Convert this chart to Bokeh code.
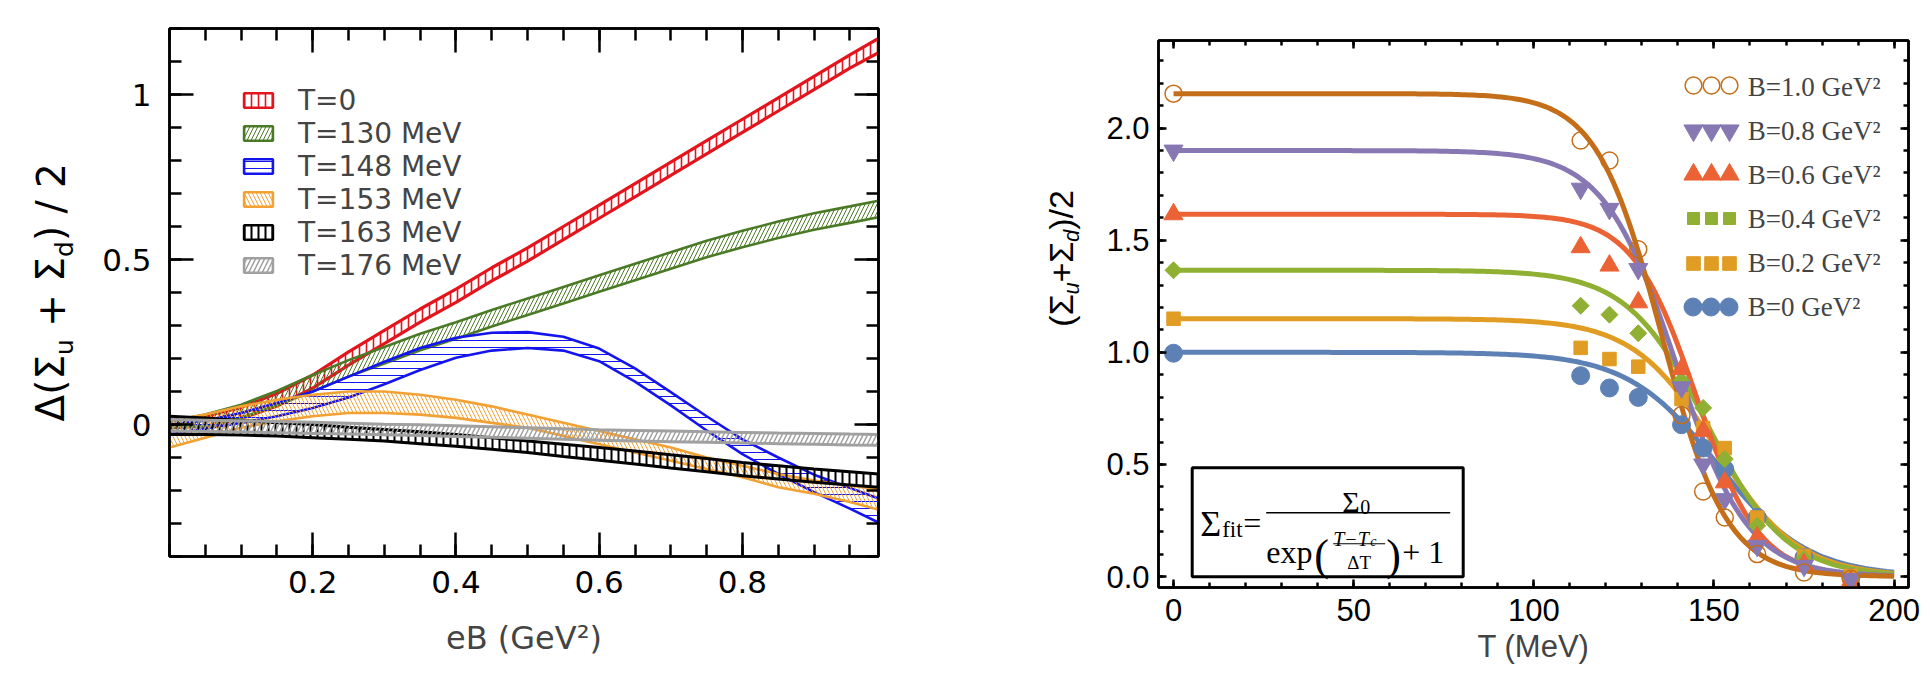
import math
import numpy as np
from bokeh.plotting import figure
from bokeh.layouts import row
from bokeh.models import (Legend, LegendItem, Label, BoxAnnotation, FixedTicker,
                          LinearAxis, NumeralTickFormatter, Range1d)
from bokeh.core.properties import value
from bokeh.embed import file_html
from bokeh.resources import INLINE

# ------------------------------------------------------------------
# Left panel: Δ(Σu+Σd)/2 versus eB, one error band per temperature
# ------------------------------------------------------------------
eB = [0.0, 0.05, 0.10, 0.15, 0.20, 0.25, 0.30, 0.35, 0.40, 0.45, 0.50,
      0.55, 0.60, 0.65, 0.70, 0.75, 0.80, 0.85, 0.90, 0.95, 0.99]

t000_lo = [-0.010, -0.005, 0.018, 0.056, 0.110, 0.180, 0.245, 0.310, 0.370, 0.435, 0.495,
           0.560, 0.625, 0.690, 0.755, 0.820, 0.885, 0.950, 1.015, 1.080, 1.127]
t000_hi = [0.010, 0.025, 0.052, 0.094, 0.150, 0.220, 0.285, 0.350, 0.410, 0.475, 0.535,
           0.600, 0.665, 0.730, 0.795, 0.860, 0.925, 0.990, 1.055, 1.120, 1.170]

t130_lo = [-0.010, -0.005, 0.020, 0.058, 0.100, 0.145, 0.185, 0.225, 0.260, 0.297, 0.332,
           0.367, 0.402, 0.437, 0.472, 0.507, 0.537, 0.565, 0.590, 0.611, 0.628]
t130_hi = [0.010, 0.030, 0.060, 0.102, 0.150, 0.195, 0.235, 0.275, 0.310, 0.347, 0.382,
           0.417, 0.452, 0.487, 0.522, 0.557, 0.587, 0.615, 0.640, 0.661, 0.678]

t148_lo = [-0.030, -0.012, 0.005, 0.025, 0.050, 0.082, 0.122, 0.165, 0.202, 0.224, 0.232,
           0.224, 0.192, 0.130, 0.058, -0.018, -0.090, -0.150, -0.205, -0.255, -0.297]
t148_hi = [0.000, 0.012, 0.035, 0.065, 0.100, 0.145, 0.190, 0.232, 0.263, 0.278, 0.280,
           0.266, 0.230, 0.170, 0.098, 0.025, -0.045, -0.100, -0.152, -0.192, -0.224]

t153_lo = [-0.070, -0.040, -0.010, 0.010, 0.025, 0.035, 0.035, 0.030, 0.020, 0.005, -0.010,
           -0.035, -0.060, -0.085, -0.110, -0.135, -0.160, -0.190, -0.210, -0.235, -0.258]
t153_hi = [0.010, 0.030, 0.055, 0.075, 0.090, 0.100, 0.100, 0.090, 0.075, 0.055, 0.030,
           0.005, -0.020, -0.045, -0.070, -0.100, -0.125, -0.150, -0.170, -0.185, -0.197]

t163_lo = [-0.030, -0.030, -0.032, -0.035, -0.040, -0.045, -0.050, -0.058, -0.066, -0.075, -0.085,
           -0.097, -0.108, -0.120, -0.132, -0.143, -0.155, -0.165, -0.175, -0.183, -0.190]
t163_hi = [0.025, 0.020, 0.012, 0.005, 0.000, -0.008, -0.015, -0.022, -0.030, -0.040, -0.050,
           -0.060, -0.070, -0.080, -0.092, -0.103, -0.115, -0.125, -0.135, -0.143, -0.150]

t176_lo = [-0.020, -0.021, -0.023, -0.025, -0.027, -0.029, -0.031, -0.033, -0.036, -0.039, -0.042,
           -0.045, -0.048, -0.050, -0.052, -0.054, -0.056, -0.058, -0.060, -0.062, -0.063]
t176_hi = [0.015, 0.013, 0.011, 0.009, 0.007, 0.004, 0.001, -0.001, -0.004, -0.007, -0.010,
           -0.013, -0.016, -0.018, -0.020, -0.022, -0.024, -0.026, -0.027, -0.029, -0.030]

band_labels = ["T=0", "T=130 MeV", "T=148 MeV", "T=153 MeV", "T=163 MeV", "T=176 MeV"]

left_x_ticks = [0.2, 0.4, 0.6, 0.8]
left_y_ticks = [0.0, 0.5, 1.0]
left_y_tick_labels = ["0", "0.5", "1"]

# ------------------------------------------------------------------
# Right panel: (Σu+Σd)/2 versus T for several field strengths
# ------------------------------------------------------------------
T_MeV = [0, 113, 121, 129, 141, 147, 153, 162, 175, 188]

sigma_B00 = [0.996, 0.896, 0.841, 0.799, 0.677, 0.573, 0.479, 0.264, 0.085, -0.004]
sigma_B02 = [1.150, 1.020, 0.970, 0.936, 0.792, 0.662, 0.573, 0.263, 0.092, 0.003]
sigma_B04 = [1.366, 1.208, 1.168, 1.085, 0.874, 0.752, 0.524, 0.226, 0.078, -0.012]
sigma_B06 = [1.616, 1.469, 1.387, 1.223, 0.926, 0.650, 0.420, 0.174, 0.055, -0.020]
sigma_B08 = [1.900, 1.730, 1.640, 1.372, 0.844, 0.500, 0.345, 0.137, 0.048, -0.012]
sigma_B10 = [2.154, 1.945, 1.856, 1.460, 0.720, 0.379, 0.263, 0.100, 0.018, -0.010]

B_labels = ["B=0 GeV²", "B=0.2 GeV²", "B=0.4 GeV²", "B=0.6 GeV²", "B=0.8 GeV²", "B=1.0 GeV²"]

# fit parameters of Σ_fit = Σ0 / (exp((T - Tc)/ΔT) + 1)
fit_sigma0 = [1.000, 1.150, 1.366, 1.616, 1.900, 2.154]
fit_Tc = [151.0, 150.5, 148.0, 145.0, 139.5, 135.5]
fit_dT = [12.5, 11.4, 11.0, 8.8, 10.0, 9.0]

right_x_ticks = [0, 50, 100, 150, 200]
right_y_ticks = [0.0, 0.5, 1.0, 1.5, 2.0]


# ------------------------------------------------------------------
# helpers
# ------------------------------------------------------------------
def style_axis(ax, font, size, tick_in, minor_in, width):
    ax.axis_line_width = width
    ax.axis_line_color = "black"
    ax.major_tick_line_width = width
    ax.minor_tick_line_width = width
    ax.major_tick_in = tick_in
    ax.major_tick_out = 0
    ax.minor_tick_in = minor_in
    ax.minor_tick_out = 0
    ax.major_label_text_font = font
    ax.major_label_text_font_size = size
    ax.major_label_text_color = "black"


def frame_axes(p, xt, yt, font, size, tick_in, minor_in, width):
    p.xaxis.ticker = xt
    p.yaxis.ticker = yt
    for ax in p.axis:
        style_axis(ax, font, size, tick_in, minor_in, width)
    # mirrored tick marks on the top and right edges, without numbers
    for side, tk in (("above", xt), ("right", yt)):
        ax = LinearAxis(ticker=tk)
        style_axis(ax, font, "1px", tick_in, minor_in, width)
        ax.major_label_text_color = None
        ax.major_label_standoff = 0
        p.add_layout(ax, side)
    p.outline_line_color = "black"
    p.outline_line_width = width
    p.grid.visible = False


def blank_strip(width):
    t = figure(width=width, height=691, x_range=Range1d(0, 1), y_range=Range1d(0, 1),
               output_backend="svg", toolbar_location=None, x_axis_location=None,
               y_axis_location=None, min_border_left=0, min_border_right=0,
               min_border_top=0, min_border_bottom=0, frame_align=False)
    t.outline_line_color = None
    t.grid.visible = False
    t.background_fill_color = "white"
    t.border_fill_color = "white"
    return t


def vertical_title(p, pieces, mid_x, sub_x, start_y, font):
    """Text reading bottom-to-top; pieces are (text, px size, is_sub, style, advance_px, gap_px).
    Each piece is centred on its own slot, so its placement does not depend on the anchor."""
    pos = start_y
    for text, size, is_sub, style, adv, gap in pieces:
        p.add_layout(Label(x=sub_x if is_sub else mid_x, y=pos + adv / 2, x_units="screen",
                           y_units="screen", text=text, angle=math.pi / 2, text_font=font,
                           text_font_size=f"{size}px", text_font_style=style, text_color="black",
                           text_align="center", text_baseline="middle"))
        pos += adv + gap


# ------------------------------------------------------------------
# left figure
# ------------------------------------------------------------------
L_FONT = "DejaVu Sans"
p1 = figure(width=864, height=691, x_range=Range1d(0.0, 0.99), y_range=Range1d(-0.4, 1.2),
            output_backend="svg", toolbar_location=None, frame_align=False,
            min_border_left=73, min_border_right=82, min_border_top=28, min_border_bottom=135)
p1.background_fill_color = "white"
p1.border_fill_color = "white"

xt1 = FixedTicker(ticks=left_x_ticks, minor_ticks=[i * 0.05 for i in range(0, 20)])
yt1 = FixedTicker(ticks=left_y_ticks, minor_ticks=[round(-0.4 + 0.1 * i, 2) for i in range(0, 17)])
frame_axes(p1, xt1, yt1, L_FONT, "31px", 24, 12, 2.5)
p1.left[0].major_label_overrides = {t: s for t, s in zip(left_y_ticks, left_y_tick_labels)}
p1.left[0].major_label_standoff = 18
p1.below[0].major_label_standoff = 14
p1.below[0].axis_label = "eB (GeV²)"
p1.below[0].axis_label_text_font = L_FONT
p1.below[0].axis_label_text_font_size = "32px"
p1.below[0].axis_label_text_font_style = "normal"
p1.below[0].axis_label_standoff = 23

bands = [
    (t000_lo, t000_hi, "#e4141c", "vertical_line", 7, 1.6, 3.2),
    (t130_lo, t130_hi, "#4a7a26", "right_diagonal_line", 8, 1.0, 2.6),
    (t148_lo, t148_hi, "#1414ee", "horizontal_line", 7, 1.0, 2.6),
    (t153_lo, t153_hi, "#f2a134", "left_diagonal_line", 8, 1.0, 2.6),
    (t163_lo, t163_hi, "#000000", "vertical_line", 7, 2.0, 3.0),
    (t176_lo, t176_hi, "#a0a0a0", "right_diagonal_line", 9, 1.5, 3.0),
]
swatch_items, text_items = [], []
nan1 = np.array([np.nan])
for (lo, hi, col, hatch, hs, hw, lw), lab in zip(bands, band_labels):
    area = p1.varea(x=eB, y1=lo, y2=hi, fill_alpha=0, hatch_pattern=hatch, hatch_color=col,
                    hatch_scale=hs, hatch_weight=hw)
    p1.line(eB, lo, line_color=col, line_width=lw)
    p1.line(eB, hi, line_color=col, line_width=lw)
    key = p1.quad(left=nan1, right=nan1, top=nan1, bottom=nan1, fill_alpha=0, line_color=col,
                  line_width=2.6, hatch_pattern=hatch, hatch_color=col, hatch_scale=hs,
                  hatch_weight=hw)
    swatch_items.append(LegendItem(label=value(""), renderers=[key]))
    text_items.append(LegendItem(label=value(lab), renderers=[area]))

p1.add_layout(Legend(items=swatch_items, location=(71, 282), glyph_width=36, glyph_height=18,
                     label_height=18, label_width=0, spacing=15, padding=0, margin=0,
                     label_standoff=0, label_text_font_size="1px", label_text_color=None,
                     border_line_alpha=0, background_fill_alpha=0))
p1.add_layout(Legend(items=text_items, location=(129, 274), glyph_width=0, glyph_height=33,
                     label_height=33, spacing=0, padding=0, margin=0, label_standoff=0,
                     label_text_font=L_FONT, label_text_font_size="28px",
                     border_line_alpha=0, background_fill_alpha=0))

# vertical title strip of the left panel (page x 0..96)
t1 = blank_strip(96)
SP = 0.318 * 39
vertical_title(t1, [("Δ(Σ", 39, False, "normal", 1.706 * 39, 0),
                    ("u", 25, True, "normal", 0.634 * 25, SP),
                    ("+", 39, False, "normal", 0.838 * 39, SP),
                    ("Σ", 39, False, "normal", 0.632 * 39, 0),
                    ("d", 25, True, "normal", 0.635 * 25, 0),
                    (")", 39, False, "normal", 0.390 * 39, SP),
                    ("/", 39, False, "normal", 0.337 * 39, SP),
                    ("2", 39, False, "normal", 0.636 * 39, 0)],
               mid_x=50, sub_x=64, start_y=691 - 421, font=L_FONT)

# ------------------------------------------------------------------
# right figure
# ------------------------------------------------------------------
R_FONT = "Liberation Sans"
S_FONT = "Liberation Serif"
p2 = figure(width=830, height=691, x_range=Range1d(-4.17, 204.0), y_range=Range1d(-0.049, 2.391),
            output_backend="svg", toolbar_location=None, frame_align=False,
            min_border_left=58, min_border_right=22, min_border_top=40, min_border_bottom=104)
p2.background_fill_color = "white"
p2.border_fill_color = "white"

xt2 = FixedTicker(ticks=right_x_ticks, minor_ticks=[10 * i for i in range(0, 21)])
yt2 = FixedTicker(ticks=right_y_ticks, minor_ticks=[round(0.1 * i, 1) for i in range(0, 24)])
frame_axes(p2, xt2, yt2, R_FONT, "31px", 8, 5, 2.5)
p2.left[0].formatter = NumeralTickFormatter(format="0.0")
p2.left[0].major_label_standoff = 9
p2.below[0].major_label_standoff = 11
p2.below[0].axis_label = "T (MeV)"
p2.below[0].axis_label_text_font = R_FONT
p2.below[0].axis_label_text_font_size = "31px"
p2.below[0].axis_label_text_font_style = "normal"
p2.below[0].axis_label_standoff = 5

series = [
    (sigma_B00, "#5E81B5", "circle", 18, dict(fill_color="#5E81B5", line_color="#5E81B5")),
    (sigma_B02, "#E19C24", "square", 13.5, dict(fill_color="#E19C24", line_color="#E19C24")),
    (sigma_B04, "#8FB032", "square", 12, dict(fill_color="#8FB032", line_color="#8FB032", angle=math.pi / 4)),
    (sigma_B06, "#EB6235", "triangle", 19, dict(fill_color="#EB6235", line_color="#EB6235")),
    (sigma_B08, "#8778B3", "inverted_triangle", 19, dict(fill_color="#8778B3", line_color="#8778B3")),
    (sigma_B10, "#C56E1A", "circle", 17, dict(fill_alpha=0, line_color="#C56E1A", line_width=1.5)),
]

T_fit = list(range(0, 201))
fit_lines = []
for (vals, col, mk, sz, kw), s0, tc, dt in zip(series, fit_sigma0, fit_Tc, fit_dT):
    fit = [s0 / (math.exp((t - tc) / dt) + 1.0) for t in T_fit]
    fit_lines.append(p2.line(T_fit, fit, line_color=col, line_width=5))

markers = [p2.scatter(T_MeV, vals, marker=mk, size=sz, **kw) for vals, col, mk, sz, kw in series]

FL, FB = 1158.3, 586.7  # frame left / bottom of the right panel on the page


def fx(px):
    return px - FL


def fy(py):
    return FB - py


# legend: three markers per row, then the label
row_y = [306.5, 262.2, 217.9, 173.6, 129.3, 85.0]     # B=0 ... B=1.0
col_x = [1693, 1711, 1729]
for i, (vals, col, mk, sz, kw) in enumerate(series):
    g = int(round(sz / 0.4))
    for cx in col_x:
        p2.add_layout(Legend(items=[LegendItem(label=value(""), renderers=[markers[i]])],
                             location=(fx(cx) - g / 2, fy(row_y[i]) - g / 2),
                             glyph_width=g, glyph_height=g, label_height=g, label_width=0,
                             spacing=0, padding=0, margin=0, label_standoff=0,
                             label_text_font_size="1px", label_text_color=None,
                             border_line_alpha=0, background_fill_alpha=0))
label_items = [LegendItem(label=value(B_labels[i]), renderers=[fit_lines[i]]) for i in range(5, -1, -1)]
p2.add_layout(Legend(items=label_items, location=(fx(1748), fy(85.0 - 22 + 6 * 44.3)),
                     glyph_width=0, glyph_height=44, label_height=44, spacing=0, padding=0,
                     margin=0, label_standoff=0, label_text_font=S_FONT,
                     label_text_font_size="27px", border_line_alpha=0, background_fill_alpha=0))

# formula box
p2.add_layout(BoxAnnotation(left=fx(1192), right=fx(1463), bottom=fy(576), top=fy(467),
                            left_units="screen", right_units="screen", top_units="screen",
                            bottom_units="screen", fill_color="white", fill_alpha=1,
                            line_color="black", line_alpha=1, line_width=3))


def put(text, px, py, size, style="normal", font=S_FONT):
    p2.add_layout(Label(x=fx(px), y=fy(py), x_units="screen", y_units="screen", text=text,
                        text_font=font, text_font_size=f"{size}px", text_font_style=style,
                        text_align="left", text_baseline="alphabetic", text_color="black"))


def hbar(x0, x1, py, thick=1.4):
    p2.add_layout(BoxAnnotation(left=fx(x0), right=fx(x1), bottom=fy(py + thick / 2),
                                top=fy(py - thick / 2), left_units="screen", right_units="screen",
                                top_units="screen", bottom_units="screen", fill_color="black",
                                fill_alpha=1, line_alpha=0))


put("Σ", 1200, 523, 36)
put("fit", 1222, 529, 23)
put("=", 1243, 522, 32)
hbar(1266, 1450, 512)
put("Σ", 1342, 501, 30)
put("0", 1360, 506, 20)
put("exp", 1266, 551, 32)
put("(", 1314, 555, 44)
put("T−T", 1333, 538, 20, style="italic")
put("c", 1370, 541, 14, style="italic")
hbar(1333, 1385, 543, 1.0)
put("ΔT", 1347, 562, 19)
put(")", 1386, 555, 44)
put("+ 1", 1402, 551, 32)

# vertical title strip of the right panel (page x 960..1100)
t2 = blank_strip(140)
vertical_title(t2, [("(Σ", 34, False, "normal", 0.94 * 34, 0),
                    ("u", 22, True, "italic", 0.556 * 22, 0),
                    ("+Σ", 34, False, "normal", 1.184 * 34, 0),
                    ("d", 22, True, "italic", 0.556 * 22, 0),
                    (")/2", 34, False, "normal", 1.167 * 34, 0)],
               mid_x=1060 - 960, sub_x=1071 - 960, start_y=691 - 326, font=R_FONT)

layout = row(t1, p1, t2, p2)
open("out.html", "w").write(file_html(layout, INLINE))
